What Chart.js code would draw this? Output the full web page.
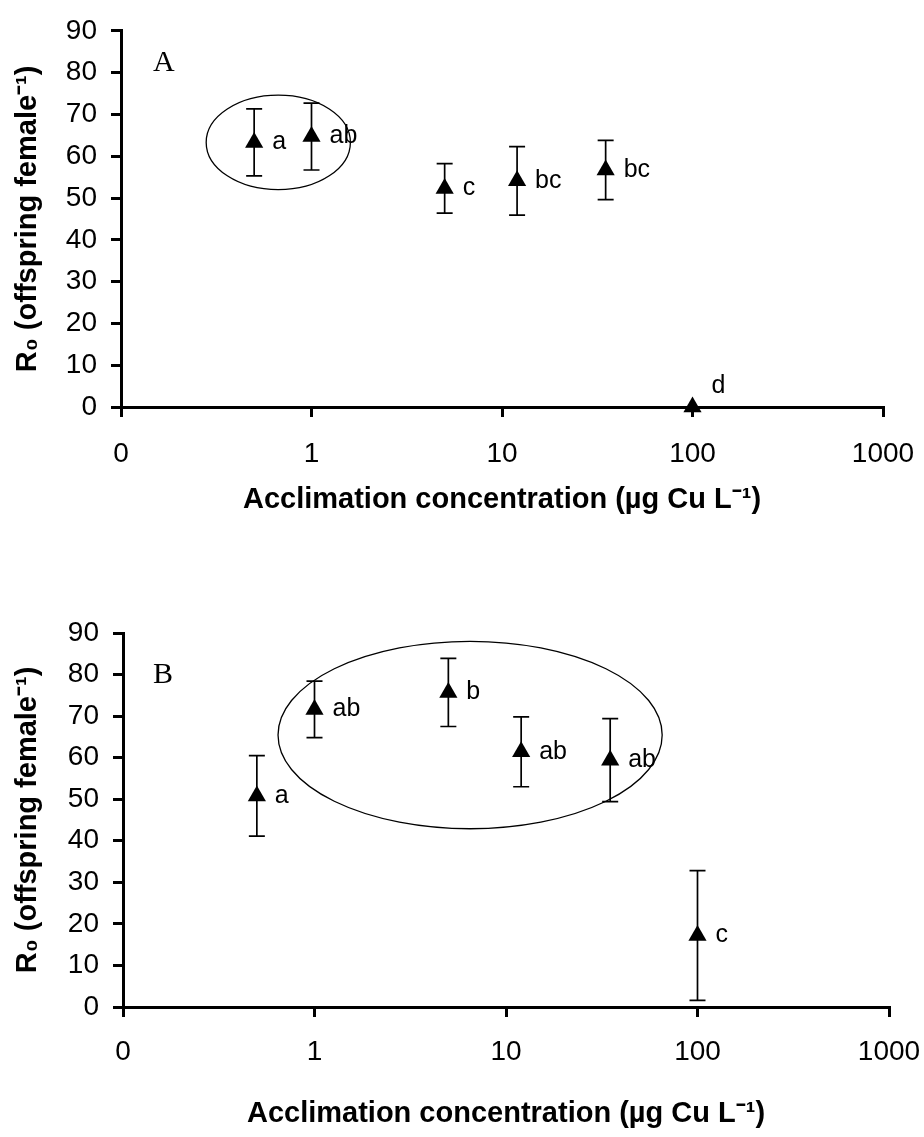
<!DOCTYPE html>
<html>
<head>
<meta charset="utf-8">
<title>R0 vs acclimation concentration</title>
<script src="https://cdn.jsdelivr.net/npm/chart.js@4.4.1/dist/chart.umd.min.js"></script>
<style>
  body { margin: 0; background: #fff; }
  canvas { position: absolute; left: 0; }
  #panelA { top: 0; }
  #panelB { top: 590px; }
</style>
</head>
<body>
<canvas id="panelA" width="924" height="540"></canvas>
<canvas id="panelB" width="924" height="547"></canvas>
<script>
// x ticks (log axis, the "0" tick sits at 0.1)
const xTickValues = [0.1, 1, 10, 100, 1000];
const xTickLabels = ['0', '1', '10', '100', '1000'];

// panel A
const concA = [0.5, 1, 5, 12, 35, 100];
const r0A = [63.3, 64.7, 52.3, 54.1, 56.7, 0];
const errA = [8.0, 8.0, 5.9, 8.2, 7.1, 0];
const lettersA = ['a', 'ab', 'c', 'bc', 'bc', 'd'];

// panel B
const concB = [0.5, 1, 5, 12, 35, 100];
const r0B = [50.8, 71.6, 75.7, 61.4, 59.4, 17.2];
const errB = [9.7, 6.8, 8.2, 8.4, 10.0, 15.6];
const lettersB = ['a', 'ab', 'b', 'ab', 'ab', 'c'];

const yTitle = 'R\u2080 (offspring female\u207B\u00B9)';
const xTitle = 'Acclimation concentration (\u00B5g Cu L\u207B\u00B9)';

Chart.defaults.font.family = "'Liberation Sans', Arial, sans-serif";
Chart.defaults.color = '#000';

function makePanel(id, p) {
  // error bars, letters, ring and panel tag
  const extras = {
    id: 'extras',
    beforeDatasetsDraw(chart) {
      const { ctx, scales: { x, y } } = chart;
      ctx.save();
      ctx.strokeStyle = '#000';
      ctx.lineWidth = 1.7;
      p.values.forEach((v, i) => {
        const e = p.errors[i];
        if (!e) return;
        const px = x.getPixelForValue(p.conc[i]);
        const top = y.getPixelForValue(v + e);
        const bot = y.getPixelForValue(v - e);
        ctx.beginPath();
        ctx.moveTo(px, top); ctx.lineTo(px, bot);
        ctx.moveTo(px - 8, top); ctx.lineTo(px + 8, top);
        ctx.moveTo(px - 8, bot); ctx.lineTo(px + 8, bot);
        ctx.stroke();
      });
      ctx.restore();
    },
    afterDatasetsDraw(chart) {
      const { ctx, chartArea, scales: { x, y } } = chart;
      ctx.save();
      ctx.fillStyle = '#000';
      ctx.font = "25px 'Liberation Sans', Arial, sans-serif";
      ctx.textAlign = 'left';
      ctx.textBaseline = 'middle';
      p.letters.forEach((t, i) => {
        const px = x.getPixelForValue(p.conc[i]);
        const py = y.getPixelForValue(p.values[i]);
        if (p.values[i] === 0) ctx.fillText(t, px + 19, py - 21);
        else ctx.fillText(t, px + 18, py);
      });

      // ring around the grouped points
      const l = x.getPixelForValue(p.ring[0]), r = x.getPixelForValue(p.ring[1]);
      const b = y.getPixelForValue(p.ring[2]), t = y.getPixelForValue(p.ring[3]);
      ctx.lineWidth = 1.3;
      ctx.strokeStyle = '#000';
      ctx.beginPath();
      ctx.ellipse((l + r) / 2, (t + b) / 2, (r - l) / 2, (b - t) / 2, 0, 0, Math.PI * 2);
      ctx.stroke();

      ctx.font = "30px 'Liberation Serif', 'Times New Roman', serif";
      ctx.fillText(p.tag, chartArea.left + p.tagDx, chartArea.top + p.tagDy);
      ctx.restore();
    }
  };

  return new Chart(document.getElementById(id), {
    type: 'scatter',
    data: {
      datasets: [{
        data: p.conc.map((c, i) => ({ x: c, y: p.values[i] })),
        pointStyle: 'triangle',
        pointRadius: 10.5,
        pointHoverRadius: 10.5,
        backgroundColor: '#000',
        borderColor: '#000',
        borderWidth: 0,
        clip: false
      }]
    },
    options: {
      responsive: false,
      animation: false,
      layout: { autoPadding: false, padding: { top: p.padTop, right: p.padRight, left: 0, bottom: 0 } },
      plugins: { legend: { display: false }, tooltip: { enabled: false } },
      scales: {
        x: {
          type: 'logarithmic',
          min: 0.1,
          max: 1000,
          afterBuildTicks: s => { s.ticks = xTickValues.map(v => ({ value: v })); },
          afterFit: s => {
            s.height = p.xAxisHeight;
            s.paddingLeft = 0;
            s.paddingRight = 0;
          },
          ticks: {
            callback: (v, i) => xTickLabels[i],
            font: { size: 28 },
            color: '#000',
            padding: p.xTickPad,
            maxRotation: 0,
            autoSkip: false
          },
          grid: { drawOnChartArea: false, drawTicks: true, tickLength: 10, color: '#000', lineWidth: 3 },
          border: { display: true, color: '#000', width: 3 },
          title: {
            display: true,
            text: xTitle,
            color: '#000',
            font: { size: 29, weight: 'bold' },
            padding: { top: 0, bottom: p.xTitlePad }
          }
        },
        y: {
          min: 0,
          max: 90,
          afterFit: s => { s.width = p.yAxisWidth; },
          ticks: { stepSize: 10, font: { size: 28 }, color: '#000', padding: 14 },
          grid: { drawOnChartArea: false, drawTicks: true, tickLength: 10, color: '#000', lineWidth: 3 },
          border: { display: true, color: '#000', width: 3 },
          title: {
            display: true,
            text: yTitle,
            color: '#000',
            font: { size: 29, weight: 'bold' },
            padding: { top: 11, bottom: 0 }
          }
        }
      }
    },
    plugins: [extras]
  });
}

makePanel('panelA', {
  conc: concA, values: r0A, errors: errA, letters: lettersA,
  ring: [0.28, 1.6, 52.0, 74.6],
  tag: 'A', tagDx: 32, tagDy: 32,
  padTop: 23, padRight: 41, yAxisWidth: 121, xAxisHeight: 133,
  xTickPad: 20, xTitlePad: 23
});

makePanel('panelB', {
  conc: concB, values: r0B, errors: errB, letters: lettersB,
  ring: [0.645, 65.4, 42.9, 88.0],
  tag: 'B', tagDx: 30, tagDy: 42,
  padTop: 43, padRight: 35, yAxisWidth: 123, xAxisHeight: 130,
  xTickPad: 18, xTitlePad: 6
});
</script>
</body>
</html>
